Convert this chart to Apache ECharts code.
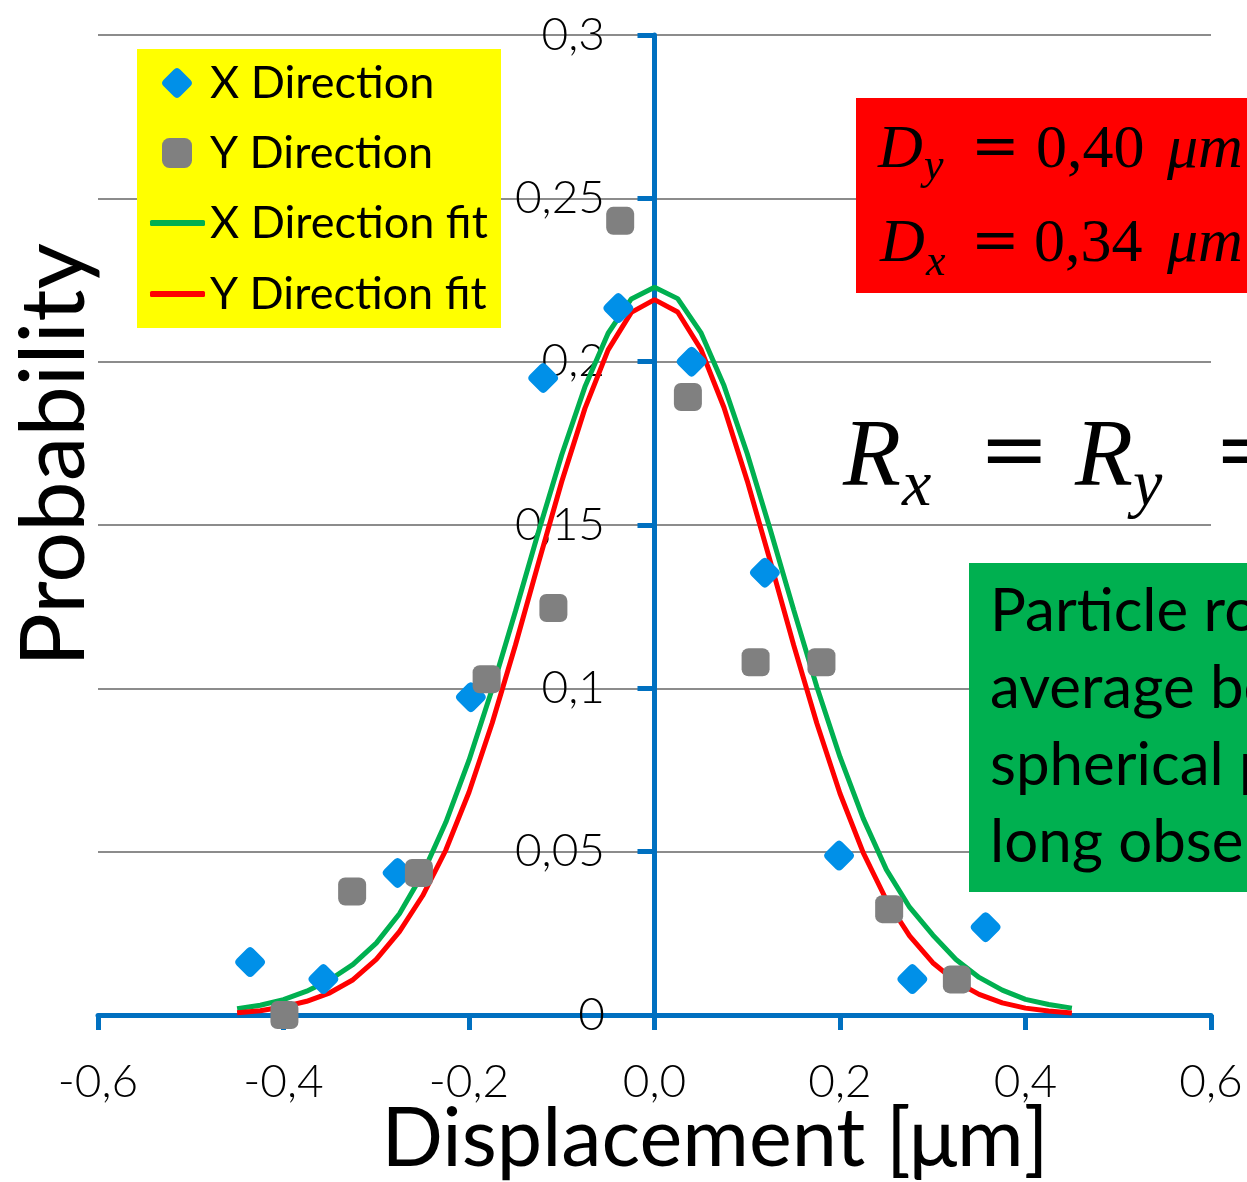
<!DOCTYPE html>
<html><head><meta charset="utf-8">
<script src="https://cdn.jsdelivr.net/npm/echarts@6/dist/echarts.min.js"></script>
<style>html,body{margin:0;padding:0;background:#fff}#c{width:1247px;height:1182px}</style>
</head><body><div id="c"></div>
<script>
// ---- data ----
const xDirX = [-0.436, -0.357, -0.277, -0.198, -0.120, -0.039, 0.040, 0.119, 0.199, 0.278, 0.357];
const xDirY = [0.0162, 0.0110, 0.0435, 0.0973, 0.1950, 0.2164, 0.2000, 0.1354, 0.0488, 0.0110, 0.0269];
const yDirX = [-0.399, -0.326, -0.254, -0.181, -0.109, -0.037, 0.036, 0.109, 0.180, 0.253, 0.326];
const yDirY = [0.0000, 0.0378, 0.0435, 0.1028, 0.1246, 0.2431, 0.1892, 0.1080, 0.1080, 0.0324, 0.0109];
const fitX = [-0.45, -0.425, -0.4, -0.375, -0.35, -0.325, -0.3, -0.275, -0.25, -0.225, -0.2, -0.175, -0.15,
  -0.125, -0.1, -0.075, -0.05, -0.025, 0, 0.025, 0.05, 0.075, 0.1, 0.125, 0.15, 0.175, 0.2, 0.225, 0.25,
  0.275, 0.3, 0.325, 0.35, 0.375, 0.4, 0.425, 0.45];
const xFitY = [0.0019, 0.0030, 0.0047, 0.0073, 0.0108, 0.0155, 0.0220, 0.0310, 0.0432, 0.0590, 0.0780, 0.0998,
  0.1235, 0.1480, 0.1715, 0.1923, 0.2087, 0.2192, 0.2228, 0.2193, 0.2089, 0.1926, 0.1718, 0.1484, 0.1241,
  0.1005, 0.0790, 0.0602, 0.0445, 0.0330, 0.0245, 0.0170, 0.0115, 0.0076, 0.0048, 0.0032, 0.0021];
const yFitY = [0.0007, 0.0013, 0.0025, 0.0042, 0.0068, 0.0108, 0.0170, 0.0255, 0.0365, 0.0505, 0.0682, 0.0894,
  0.1132, 0.1385, 0.1633, 0.1857, 0.2036, 0.2151, 0.2190, 0.2152, 0.2038, 0.1859, 0.1635, 0.1387, 0.1133,
  0.0893, 0.0678, 0.0497, 0.0352, 0.0242, 0.0160, 0.0102, 0.0063, 0.0037, 0.0021, 0.0012, 0.0006];
const seriesNames = ['X Direction', 'Y Direction', 'X Direction fit', 'Y Direction fit'];
const xAxisTitle = 'Displacement [μm]';
const yAxisTitle = 'Probability';
const noteLines = ['Particle rotation on', 'average between', 'spherical particles', 'long observation'];

// ---- styles ----
const SANS = 'Lato, "Open Sans", "Noto Sans", sans-serif';
const SERIF = '"Liberation Serif", "DejaVu Serif", serif';
const EQ = '"DejaVu Serif", "Liberation Serif", serif';
const BLUE_AXIS = '#0070C0';
const DIAMOND = 'path://M4,1 Q5,0 6,1 L9,4 Q10,5 9,6 L6,9 Q5,10 4,9 L1,6 Q0,5 1,4 Z';

function t(text, x, y, size, opts) {
  opts = opts || {};
  return {
    type: 'text', z: 10, x: x, y: y, rotation: opts.rotation || 0,
    style: {
      text: text, fill: '#000', align: opts.align || 'left', verticalAlign: 'middle',
      fontSize: size, fontFamily: opts.family || SERIF, fontStyle: opts.italic ? 'italic' : 'normal',
      fontWeight: opts.weight || 'normal'
    }
  };
}

const chart = echarts.init(document.getElementById('c'), null, { renderer: 'canvas' });
const graphics = [
  { type: 'rect', z: 3, shape: { x: 137, y: 49, width: 364, height: 279 }, style: { fill: '#FFFF00' } },
  { type: 'rect', z: 3, shape: { x: 856, y: 98, width: 420, height: 195 }, style: { fill: '#FF0000' } },
  { type: 'rect', z: 3, shape: { x: 969, y: 563, width: 320, height: 329 }, style: { fill: '#00B050' } },
  // D_y = 0,40 μm
  t('D', 878, 151, 62, { italic: true }),
  t('y', 924, 167, 44, { italic: true }),
  t('=', 971, 150, 58, { family: EQ }),
  t('0,40', 1036, 151, 62),
  t('μm', 1167, 151, 62, { italic: true }),
  // D_x = 0,34 μm
  t('D', 880, 245, 62, { italic: true }),
  t('x', 926, 263, 44, { italic: true }),
  t('=', 971, 244, 58, { family: EQ }),
  t('0,34', 1034, 245, 62),
  t('μm', 1167, 245, 62, { italic: true }),
  // R_x = R_y =
  t('R', 843, 460, 95, { italic: true }),
  t('x', 902, 488, 66, { italic: true }),
  t('=', 979, 456, 84, { family: EQ }),
  t('R', 1075, 460, 95, { italic: true }),
  t('y', 1133, 488, 66, { italic: true }),
  t('=', 1214, 456, 84, { family: EQ }),
  // axis titles
  t(xAxisTitle, 715, 1140, 81, { align: 'center', family: SANS }),
  t(yAxisTitle, 55, 455, 90, { align: 'center', family: SANS, rotation: Math.PI / 2 })
];
noteLines.forEach((s, i) => graphics.push(t(s, 990, 612 + i * 77, 60, { family: SANS })));

chart.setOption({
  animation: false,
  backgroundColor: '#fff',
  grid: { left: 98, right: 36, top: 35, bottom: 167, containLabel: false, outerBoundsMode: 'none' },
  xAxis: {
    type: 'value', min: -0.6, max: 0.6, interval: 0.2,
    axisLine: { show: true, lineStyle: { color: BLUE_AXIS, width: 5 } },
    axisTick: { show: true, length: 15, lineStyle: { color: BLUE_AXIS, width: 5 } },
    splitLine: { show: false },
    axisLabel: {
      margin: 44, color: '#000', fontSize: 46, fontFamily: SANS, fontWeight: 300,
      formatter: v => (v < -1e-9 ? '-' : '') + Math.abs(v).toFixed(1).replace('.', ',')
    }
  },
  yAxis: {
    type: 'value', min: 0, max: 0.3, interval: 0.05,
    axisLine: { show: true, onZero: true, lineStyle: { color: BLUE_AXIS, width: 5 } },
    axisTick: { show: true, length: 17, lineStyle: { color: BLUE_AXIS, width: 5 } },
    splitLine: { show: true, lineStyle: { color: '#8C8C8C', width: 2 } },
    axisLabel: {
      margin: -507, color: '#000', fontSize: 46, fontFamily: SANS, fontWeight: 300,
      formatter: v => (v === 0 ? '0' : String(+v.toFixed(2)).replace('.', ','))
    }
  },
  legend: [
    {
      data: [{ name: seriesNames[0], icon: DIAMOND }, { name: seriesNames[1], icon: 'roundRect' }],
      orient: 'vertical', left: 162, top: 58, padding: 0, itemWidth: 30, itemHeight: 30, itemGap: 20,
      selectedMode: false, z: 10,
      textStyle: { fontSize: 45, lineHeight: 50, fontFamily: SANS, color: '#000', padding: [0, 0, 0, 13] }
    },
    {
      data: [{ name: seriesNames[2], icon: 'roundRect' }, { name: seriesNames[3], icon: 'roundRect' }],
      orient: 'vertical', left: 150, top: 198, padding: 0, itemWidth: 55, itemHeight: 6, itemGap: 21,
      selectedMode: false, z: 10,
      textStyle: { fontSize: 45, lineHeight: 50, fontFamily: SANS, color: '#000' }
    }
  ],
  series: [
    {
      name: seriesNames[2], type: 'line', z: 2, symbol: 'none', silent: true,
      data: fitX.map((x, i) => [x, xFitY[i]]),
      lineStyle: { color: '#00B050', width: 5 }, itemStyle: { color: '#00B050' }
    },
    {
      name: seriesNames[3], type: 'line', z: 3, symbol: 'none', silent: true,
      data: fitX.map((x, i) => [x, yFitY[i]]),
      lineStyle: { color: '#FF0000', width: 5 }, itemStyle: { color: '#FF0000' }
    },
    {
      name: seriesNames[0], type: 'scatter', z: 4, symbol: DIAMOND, symbolSize: 30, silent: true,
      data: xDirX.map((x, i) => [x, xDirY[i]]),
      itemStyle: { color: '#0090E8', opacity: 1 }
    },
    {
      name: seriesNames[1], type: 'scatter', z: 5, symbol: 'roundRect', symbolSize: 28, silent: true,
      data: yDirX.map((x, i) => [x, yDirY[i]]),
      itemStyle: { color: '#808080', opacity: 1 }
    }
  ],
  graphic: graphics
});
</script></body></html>
